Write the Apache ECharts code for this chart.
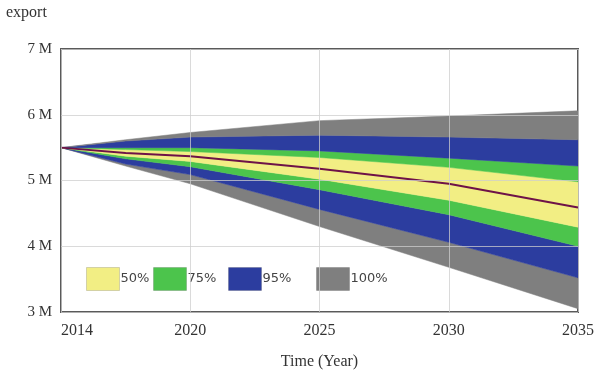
<!DOCTYPE html>
<html>
<head>
<meta charset="utf-8">
<script src="https://cdn.jsdelivr.net/npm/echarts@6/dist/echarts.min.js"></script>
<style>html,body{margin:0;padding:0;background:#fff;}#c{width:598px;height:376px;}</style>
</head>
<body>
<div id="c"></div>
<script>
// Time points (year) and band bounds, in millions
const years   = [2015, 2017.5, 2020, 2025, 2030, 2035];
const p100hi  = [5.5, 5.62, 5.73, 5.91, 5.98, 6.06];
const p95hi   = [5.5, 5.60, 5.66, 5.69, 5.66, 5.62];
const p75hi   = [5.5, 5.50, 5.50, 5.45, 5.34, 5.22];
const p50hi   = [5.5, 5.47, 5.44, 5.35, 5.20, 4.98];
const median  = [5.5, 5.42, 5.37, 5.18, 4.95, 4.59];
const p50lo   = [5.5, 5.37, 5.29, 5.02, 4.70, 4.29];
const p75lo   = [5.5, 5.33, 5.21, 4.86, 4.48, 4.00];
const p95lo   = [5.5, 5.25, 5.09, 4.56, 4.06, 3.52];
const p100lo  = [5.5, 5.22, 4.95, 4.30, 3.68, 3.05];
const yTicks  = [3, 4, 5, 6, 7];
const xTicks  = [2015, 2020, 2025, 2030, 2035];
const firstXLabel = '2014';
const bandNames = ['50%', '75%', '95%', '100%'];

const colors = {'50%': '#f2ee84', '75%': '#4cc44c', '95%': '#2c3d9f', '100%': '#7f7f7f'};

const bounds = [p100lo, p95lo, p75lo, p50lo, median, p50hi, p75hi, p95hi, p100hi];
const bandOf = ['100%', '95%', '75%', '50%', '50%', '75%', '95%', '100%'];

// Each band drawn as a polygon between its lower and upper bound, via the axis scales
function bandSeries(k) {
  const lo = bounds[k], hi = bounds[k + 1];
  const data = years.map((y, i) => [y, lo[i], hi[i]]);
  return {
    type: 'custom', name: bandOf[k], silent: true, z: 2,
    itemStyle: {color: colors[bandOf[k]]},
    encode: {x: 0, y: [1, 2]},
    data: data,
    renderItem: function (params, api) {
      if (params.dataIndex !== 0) return null;
      const upper = [], lower = [];
      for (let i = 0; i < data.length; i++) {
        upper.push(api.coord([data[i][0], data[i][2]]));
        lower.push(api.coord([data[i][0], data[i][1]]));
      }
      const pts = upper.concat(lower.reverse());
      return {type: 'polygon', shape: {points: pts},
        style: {fill: colors[bandOf[k]], stroke: colors[bandOf[k]], lineWidth: 0.5}};
    }
  };
}
const series = [];
for (let k = 0; k < bandOf.length; k++) series.push(bandSeries(k));
series.push({
  type: 'line', name: 'median', symbol: 'none', silent: true,
  lineStyle: {color: '#6e1248', width: 2},
  data: years.map((y, i) => [y, median[i]]), z: 4
});

const legendPos = [86, 153, 228, 316];
const legends = bandNames.map((n, i) => ({
  data: [{name: n, icon: 'rect', itemStyle: {color: colors[n], borderColor: 'rgba(0,0,0,0.15)', borderWidth: 1}}],
  left: legendPos[i], top: 267, orient: 'horizontal', padding: 0,
  itemWidth: 33, itemHeight: 23, itemGap: 0, selectedMode: false,
  textStyle: {fontFamily: 'DejaVu Sans', fontSize: 13, color: '#444', padding: [0, 0, 0, -4]}
}));

const serif = 'Liberation Serif';
const option = {
  animation: false,
  backgroundColor: '#fff',
  legend: legends,
  grid: {left: 61, right: 20, top: 49, bottom: 64, show: true, borderColor: '#5a5a5a', borderWidth: 2, containLabel: false},
  graphic: [{type: 'text', left: 6, top: 5, style: {text: 'export', font: '16px "Liberation Serif"', fill: '#333'}}],
  xAxis: {
    type: 'value', min: xTicks[0], max: xTicks[xTicks.length - 1], interval: 5, z: 5,
    name: 'Time (Year)', nameLocation: 'middle', nameGap: 42,
    nameTextStyle: {fontFamily: serif, fontSize: 16, color: '#333'},
    axisLine: {show: false}, axisTick: {show: false},
    axisLabel: {fontFamily: serif, fontSize: 16, color: '#333', margin: 11, alignMinLabel: 'left',
      formatter: v => v === xTicks[0] ? firstXLabel : String(v)},
    splitLine: {show: true, lineStyle: {color: 'rgba(205,205,205,0.75)', width: 1}}
  },
  yAxis: {
    type: 'value', min: yTicks[0], max: yTicks[yTicks.length - 1], interval: 1, z: 5,
    axisLine: {show: false}, axisTick: {show: false},
    axisLabel: {fontFamily: serif, fontSize: 15, color: '#333', margin: 9, formatter: v => v + ' M'},
    splitLine: {show: true, lineStyle: {color: 'rgba(205,205,205,0.75)', width: 1}}
  },
  series: series
};
const chart = echarts.init(document.getElementById('c'), null, {renderer: 'canvas'});
chart.setOption(option);
</script>
</body>
</html>
